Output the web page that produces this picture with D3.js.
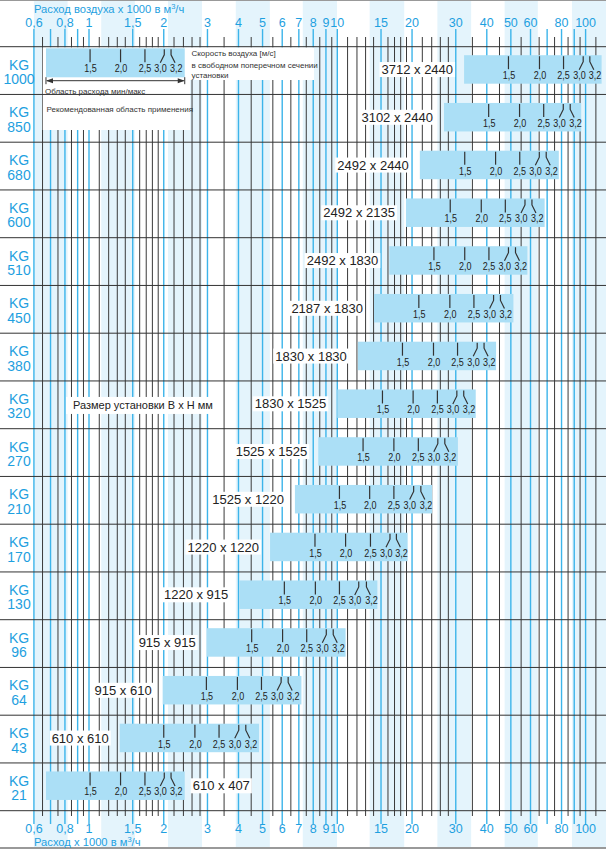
<!DOCTYPE html>
<html>
<head>
<meta charset="utf-8">
<script src="https://cdn.jsdelivr.net/npm/d3@7"></script>
<style>
  body { margin: 0; background: #fff; }
  svg { display: block; font-family: "Liberation Sans", Arial, sans-serif; }
</style>
</head>
<body>
<svg id="chart" width="606" height="850"></svg>
<script>
"use strict";

// Rows, top to bottom
const models = ["1000", "850", "680", "600", "510", "450", "380", "320",
  "270", "210", "170", "130", "96", "64", "43", "21"];
const sizes = ["3712 x 2440", "3102 x 2440", "2492 x 2440", "2492 x 2135",
  "2492 x 1830", "2187 x 1830", "1830 x 1830", "1830 x 1525", "1525 x 1525",
  "1525 x 1220", "1220 x 1220", "1220 x 915", "915 x 915", "915 x 610",
  "610 x 610", "610 x 407"];

// Flow, x 1000 m3/h
const minFlow = [32.4, 26.9, 21.5, 18.9, 16.2, 14.05, 12.1, 10.0, 8.38, 6.75,
  5.36, 4.03, 2.98, 1.98, 1.33, 0.671];
const maxFlow = [116, 96, 78, 68.4, 58.3, 51.2, 43.6, 36.1, 30.6, 24.1,
  19.2, 14.5, 10.8, 7.17, 4.84, 2.43];

// Flow at each marked air velocity
const velocities = ["1,5", "2,0", "2,5", "3,0", "3,2"];
const flowAt15 = [48.9, 40.7, 32.6, 28.5, 24.5, 21.3, 18.3, 15.2, 12.7, 10.2, 8.13, 6.12, 4.52, 2.97, 2.0, 1.01];
const flowAt20 = [65.2, 54.2, 43.4, 38.0, 32.6, 28.4, 24.4, 20.2, 16.9, 13.5, 10.8, 8.16, 6.02, 3.96, 2.67, 1.34];
const flowAt25 = [81.5, 67.8, 54.3, 47.5, 40.8, 35.5, 30.5, 25.3, 21.2, 16.9, 13.6, 10.2, 7.53, 4.95, 3.34, 1.68];
const flowAt30 = [97.8, 81.3, 65.1, 57.0, 48.9, 42.6, 36.6, 30.3, 25.4, 20.3, 16.3, 12.2, 9.03, 5.94, 4.01, 2.01];
const flowAt32 = [104, 86.7, 69.4, 60.8, 52.2, 45.4, 39.0, 32.3, 27.1, 21.7, 17.3, 13.1, 9.63, 6.34, 4.28, 2.14];

// Grid
const majorTicks = [0.6, 0.7, 0.8, 0.9, 1, 1.5, 2, 3, 4, 5, 6, 7, 8, 9, 10,
  15, 20, 30, 40, 50, 60, 70, 80, 90, 100];
const minorTicks = [0.65, 0.75, 0.85, 0.95, 1.1, 1.2, 1.3, 1.4, 1.6, 1.7, 1.8,
  1.9, 2.2, 2.4, 2.6, 2.8, 3.5, 4.5, 5.5, 6.5, 7.5, 8.5, 9.5, 11, 12, 13, 14,
  16, 17, 18, 19, 22, 24, 26, 28, 35, 45, 55, 65, 75, 85, 95, 110];
const labelTicks = [0.6, 0.8, 1, 1.5, 2, 3, 4, 5, 6, 7, 8, 9, 10, 15, 20, 30,
  40, 50, 60, 80, 100];
const bandStart = [0.6, 1.12, 2.08, 3.9, 7.26, 13.5, 25.3, 47.2, 88.1];
const bandEnd = [0.82, 1.53, 2.85, 5.35, 9.97, 18.6, 34.6, 64.2, 121];

const rows = models.map((m, i) => ({
  model: m,
  size: sizes[i],
  min: minFlow[i],
  max: maxFlow[i],
  ticks: [flowAt15[i], flowAt20[i], flowAt25[i], flowAt30[i], flowAt32[i]],
}));

const W = 606;
const BLUE = "#3cb4ea", BLUE_TEXT = "#1ea0e0", DARK = "#3a3a3a";
const BAR = "#abdff6", BAND = "#e4f4fc";

const svg = d3.select("#chart");
const x = d3.scaleLog().domain([1, 100]).range([89, 585.6]);
const y = d3.scaleBand().domain(models).range([46.7, 810.7]);
const rowH = y.bandwidth();

const fmt = (v) => String(v).replace(".", ",");

// background bands
svg.append("g").selectAll("rect")
  .data(bandStart)
  .join("rect")
  .attr("x", (d) => x(d))
  .attr("width", (d, i) => x(bandEnd[i]) - x(d))
  .attr("y", 1)
  .attr("height", 846)
  .attr("fill", BAND);

// vertical grid
const grid = svg.append("g");
grid.selectAll("line.minor")
  .data(minorTicks)
  .join("line")
  .attr("class", "minor")
  .attr("x1", (d) => x(d)).attr("x2", (d) => x(d))
  .attr("y1", 37).attr("y2", 816)
  .attr("stroke", DARK).attr("stroke-width", 1);
grid.selectAll("line.major")
  .data(majorTicks)
  .join("line")
  .attr("class", "major")
  .attr("x1", (d) => x(d)).attr("x2", (d) => x(d))
  .attr("y1", 29).attr("y2", 824)
  .attr("stroke", BLUE).attr("stroke-width", 1.4);

// white boxes over the grid (legend area and notes)
const boxes = svg.append("g").attr("fill", "#fff");
boxes.append("rect").attr("x", 42.7).attr("y", 47.3).attr("width", 147.3).attr("height", 82.7);
boxes.append("rect").attr("x", 190).attr("y", 47.3).attr("width", 124).attr("height", 32.7);

// horizontal row lines
svg.append("g").selectAll("line")
  .data(d3.range(models.length + 1))
  .join("line")
  .attr("x1", 0).attr("x2", W)
  .attr("y1", (i) => 46.7 + i * rowH).attr("y2", (i) => 46.7 + i * rowH)
  .attr("stroke", "#333").attr("stroke-width", 1);

// borders
svg.append("line").attr("x1", 0).attr("x2", W).attr("y1", 0.5).attr("y2", 0.5)
  .attr("stroke", "#999").attr("stroke-width", 1);
svg.append("line").attr("x1", 0).attr("x2", W).attr("y1", 848).attr("y2", 848)
  .attr("stroke", "#999").attr("stroke-width", 2);

// axis labels
function axisLabels(yPos, title, titleY) {
  const g = svg.append("g")
    .attr("fill", BLUE_TEXT)
    .attr("font-size", 12.5)
    .attr("text-anchor", "middle");
  g.selectAll("text")
    .data(labelTicks)
    .join("text")
    .attr("x", (d) => x(d))
    .attr("y", yPos)
    .text(fmt);
  const t = svg.append("text")
    .attr("x", 34).attr("y", titleY)
    .attr("fill", BLUE_TEXT).attr("font-size", 11.2);
  t.append("tspan").text(title + " в м");
  t.append("tspan").attr("font-size", 7.5).attr("dy", -4).text("3");
  t.append("tspan").attr("dy", 4).text("/ч");
}
axisLabels(26.5, "Расход воздуха x 1000", 12.5);
axisLabels(833, "Расход x 1000", 845.5);

// row labels
const rowLabels = svg.append("g")
  .attr("fill", BLUE_TEXT)
  .attr("font-size", 14)
  .attr("text-anchor", "middle");
rowLabels.selectAll("text.kg")
  .data(rows)
  .join("text")
  .attr("class", "kg")
  .attr("x", 19)
  .attr("y", (d) => y(d.model) + 23)
  .text("KG");
rowLabels.selectAll("text.num")
  .data(rows)
  .join("text")
  .attr("class", "num")
  .attr("x", 19)
  .attr("y", (d) => y(d.model) + 37.5)
  .text((d) => d.model);

// one bar with velocity marks
function drawBar(g, d, top, h) {
  g.append("rect")
    .attr("x", x(d.min))
    .attr("y", top)
    .attr("width", x(d.max) - x(d.min))
    .attr("height", h)
    .attr("fill", BAR);

  const marks = g.append("g")
    .attr("fill", "none").attr("stroke", "#333").attr("stroke-width", 1.2);
  d.ticks.forEach((v, i) => {
    const xv = x(v);
    let path = `M${xv},${top + 1}V${top + 14}`;
    if (i === 3) path = `M${xv},${top + 1}V${top + 6.5}L${xv - 4},${top + 14.5}`;
    if (i === 4) path = `M${xv},${top + 1}V${top + 6.5}L${xv + 4},${top + 14.5}`;
    marks.append("path").attr("d", path);
  });

  // condensed labels, like the narrow face of the original
  const labels = g.append("g")
    .attr("fill", "#222")
    .attr("font-size", 11)
    .attr("text-anchor", "middle");
  const shift = [0.5, 0.5, 0, -3.8, 5.2];
  d.ticks.forEach((v, i) => {
    labels.append("text")
      .attr("x", x(v) + shift[i])
      .attr("y", top + 24)
      .attr("textLength", 12.5)
      .attr("lengthAdjust", "spacingAndGlyphs")
      .text(velocities[i]);
  });
}

const bars = svg.append("g");
rows.forEach((d, i) => {
  const g = bars.append("g");
  const top = y(d.model) + 8.5;
  drawBar(g, d, top, 28.5);

  // unit size label with white box
  const last = i === rows.length - 1;
  const label = g.append("text")
    .attr("x", last ? x(d.max) + 8 : x(d.min) - 11)
    .attr("y", top + 14.25 + 4.6)
    .attr("text-anchor", last ? "start" : "end")
    .attr("font-size", 13)
    .attr("fill", "#222")
    .text(d.size);
  const bb = label.node().getBBox();
  g.insert("rect", () => label.node())
    .attr("x", bb.x - 2).attr("y", bb.y)
    .attr("width", bb.width + 4).attr("height", bb.height)
    .attr("fill", "#fff");
});

// legend (sample bar = smallest unit)
const legend = svg.append("g");
const sample = rows[rows.length - 1];
drawBar(legend, sample, 48.3, 29);

const arrowY = 80.7;
const xa = x(sample.min), xb = x(sample.max);
legend.append("line")
  .attr("x1", xa + 1).attr("x2", xb - 1)
  .attr("y1", arrowY).attr("y2", arrowY)
  .attr("stroke", "#333").attr("stroke-width", 1);
[xa, xb].forEach((xv, i) => {
  const dir = i === 0 ? 1 : -1;
  legend.append("line")
    .attr("x1", xv).attr("x2", xv)
    .attr("y1", arrowY - 3.5).attr("y2", arrowY + 3.5)
    .attr("stroke", "#333").attr("stroke-width", 1);
  legend.append("path")
    .attr("d", `M${xv},${arrowY}l${dir * 7},-2.5v5z`)
    .attr("fill", "#333");
});

const note = legend.append("g").attr("fill", "#333").attr("font-size", 8);
note.append("text").attr("x", 45).attr("y", 93.5).text("Область расхода мин/макс");
note.append("text").attr("x", 46.5).attr("y", 112).text("Рекомендованная область применения");
note.append("text").attr("x", 191.5).attr("y", 56).text("Скорость воздуха [м/с]");
note.append("text").attr("x", 191.5).attr("y", 68).text("в свободном поперечном сечении");
note.append("text").attr("x", 191.5).attr("y", 78).text("установки");

// size caption in KG 320 row
const capG = svg.append("g");
const cap = capG.append("text")
  .attr("x", 73).attr("y", y("320") + 28.5)
  .attr("font-size", 11).attr("fill", "#222")
  .text("Размер установки В х Н мм");
const cb = cap.node().getBBox();
capG.insert("rect", () => cap.node())
  .attr("x", cb.x - 7).attr("y", cb.y - 2.5)
  .attr("width", cb.width + 14).attr("height", cb.height + 5)
  .attr("fill", "#fff");
</script>
</body>
</html>
